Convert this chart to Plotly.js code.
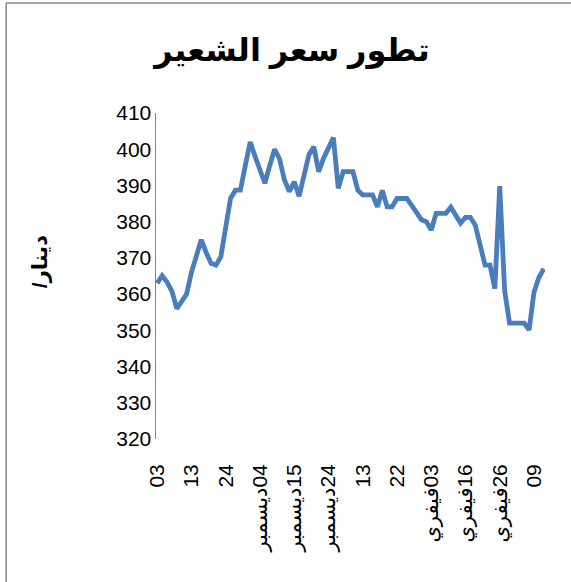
<!DOCTYPE html>
<html>
<head>
<meta charset="utf-8">
<script src="https://cdn.plot.ly/plotly-3.0.1.min.js"></script>
<style>
  html, body { margin: 0; padding: 0; background: #fff; }
  #chart { width: 571px; height: 582px; }
</style>
</head>
<body>
<div id="chart"></div>
<script>
// Barley price (dinar) readings, one per observation
const prices = [
  363.0, 365.1, 363.3, 360.8, 356.0, 357.8, 360.0, 366.0, 371.0, 375.0,
  371.5, 368.5, 368.0, 370.3, 378.5, 386.5, 388.7, 388.7, 395.5, 402.0,
  398.0, 394.0, 390.6, 395.5, 400.0, 397.3, 391.5, 388.3, 391.0, 387.0,
  393.5, 398.5, 400.7, 393.8, 397.5, 400.5, 403.2, 389.2, 393.8, 393.8,
  393.8, 388.7, 387.4, 387.4, 387.4, 384.1, 388.6, 384.1, 384.1, 386.4,
  386.4, 386.4, 384.5, 382.5, 380.5, 380.0, 377.7, 382.3, 382.3, 382.3,
  384.0, 381.8, 379.6, 381.2, 381.2, 379.0, 374.0, 368.0, 368.0, 361.5,
  389.8, 361.0, 352.0, 352.0, 352.0, 352.0, 350.1, 360.5, 364.6, 367.0
];
// Observation index of each labelled tick and its text
const tickPositions = [0, 7, 14, 21, 28, 35, 42, 49, 56, 63, 70, 77];
const tickLabels = [
  "03", "13", "24",
  "\u202B04ديسمبر\u202C", "\u202B15ديسمبر\u202C", "\u202B24ديسمبر\u202C",
  "13", "22",
  "\u202B03فيفري\u202C", "\u202B16فيفري\u202C", "\u202B26فيفري\u202C",
  "09"
];
const chartTitle = "تطور سعر الشعير";
const yTitle = "/دينار";

const obs = prices.map((_, i) => i);
const FONT = "'Liberation Sans', Arial, 'DejaVu Sans', sans-serif";

const W = 571, H = 582;
const L = 156, R = 25.5, T = 113, B = 143;
const pw = W - L - R, ph = H - T - B;
const xr = [-0.25, 79.25];
const px2paperX = p => (p - L) / pw;
const px2paperY = p => (H - B - p) / ph;

const trace = {
  x: obs,
  y: prices,
  type: 'scatter',
  mode: 'lines',
  line: { color: '#4a7ebb', width: 4.8 },
  hoverinfo: 'y'
};

const layout = {
  width: W, height: H,
  margin: { l: L, r: R, t: T, b: B, pad: 0 },
  paper_bgcolor: '#ffffff',
  plot_bgcolor: '#ffffff',
  showlegend: false,
  title: {
    text: '<b>' + chartTitle + '</b>',
    font: { family: FONT, size: 32, color: '#000' },
    xref: 'container', yref: 'container',
    x: 292 / W, y: 1 - 50 / H, xanchor: 'center', yanchor: 'middle'
  },
  xaxis: {
    range: xr,
    tickmode: 'array',
    tickvals: tickPositions,
    ticktext: tickLabels,
    tickangle: -90,
    ticks: '',
    ticklabelstandoff: 20,
    showline: false, showgrid: false, zeroline: false,
    tickfont: { family: FONT, size: 21, color: '#000' },
    fixedrange: true
  },
  yaxis: {
    range: [320, 410],
    tickmode: 'linear', tick0: 320, dtick: 10,
    ticks: '',
    ticklabelstandoff: -1,
    showline: true, linecolor: '#868686', linewidth: 1.5,
    showgrid: false, zeroline: false,
    tickfont: { family: FONT, size: 21, color: '#000' },
    fixedrange: true
  },
  annotations: [{
    text: '<b>' + yTitle + '</b>',
    xref: 'paper', yref: 'paper',
    x: px2paperX(40), y: px2paperY(262),
    xanchor: 'center', yanchor: 'middle',
    textangle: -90, showarrow: false,
    font: { family: FONT, size: 21, color: '#000' }
  }],
  shapes: [
    { type: 'line', xref: 'paper', yref: 'paper',
      x0: px2paperX(6), x1: px2paperX(6), y0: px2paperY(3), y1: px2paperY(600),
      line: { color: '#868686', width: 1.5 } },
    { type: 'line', xref: 'paper', yref: 'paper',
      x0: px2paperX(6), x1: px2paperX(600), y0: px2paperY(3), y1: px2paperY(3),
      line: { color: '#868686', width: 1.5 } }
  ]
};

Plotly.newPlot('chart', [trace], layout, { displayModeBar: false, staticPlot: true });
</script>
</body>
</html>
